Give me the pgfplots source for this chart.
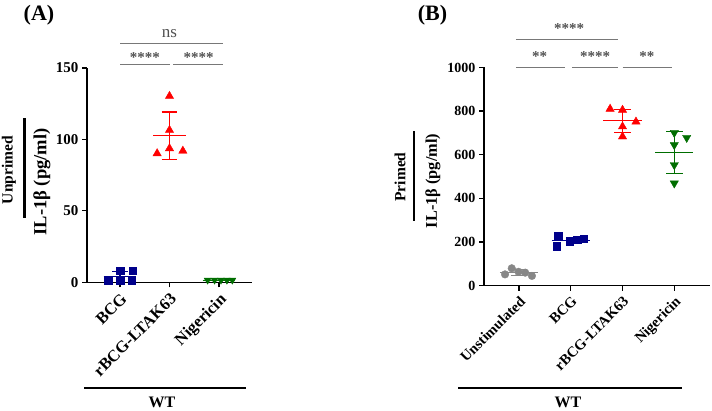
\documentclass[border=0pt]{standalone}
\usepackage{pgfplots}
\pgfplotsset{compat=1.18}
\usepackage{fontspec}
\setmainfont{Liberation Serif}
\definecolor{cblue}{RGB}{0,0,139}
\definecolor{cred}{RGB}{255,0,0}
\definecolor{cgreen}{RGB}{0,110,0}
\definecolor{cgray}{RGB}{135,135,135}
\definecolor{sigl}{RGB}{120,120,120}
\definecolor{sigt}{RGB}{80,80,80}
\newcommand\fs[1]{\fontsize{#1}{#1}\selectfont\bfseries}
\pgfplotsset{
  panel/.style={
    scale only axis, anchor=south west, clip=false,
    axis x line=bottom, axis y line=left,
    axis line style={line width=1.4pt,-},
    every tick/.style={black, line width=1.2pt},
    tick align=outside, major tick length=5pt,
    minor tick num=0,
    /pgf/number format/assume math mode=true,
    /pgf/number format/1000 sep={},
    ymin=0,
  },
  msd/.style={line width=1.1pt, forget plot},
}
\begin{document}
\begin{tikzpicture}[x=1pt,y=1pt]
\useasboundingbox (0,0) rectangle (712,410);
% ---------------- Panel A ----------------
\begin{axis}[panel, at={(87pt,127.7pt)}, width=165pt, height=214.3pt,
  xmin=-0.667, xmax=2.667, ymax=150, ytick={0,50,100,150},
  xtick={0,1,2}, xticklabels={BCG,rBCG-LTAK63,Nigericin},
  yticklabel style={font=\fs{15}},
  xticklabel style={rotate=45, anchor=north east, font=\fs{16.5}}]
% BCG
\addplot[msd, cblue] coordinates {(-0.33,3.8) (0.33,3.8)};
\addplot[msd, cblue] coordinates {(0,0) (0,7.6)};
\addplot[msd, cblue] coordinates {(-0.16,7.6) (0.16,7.6)};
\addplot[only marks, mark=square*, mark size=3.8pt, color=cblue] coordinates {(-0.24,1.5) (0,1.5) (0.24,1.5) (0,8) (0.26,8)};
% rBCG-LTAK63
\addplot[msd, cred] coordinates {(0.67,102.5) (1.33,102.5)};
\addplot[msd, cred] coordinates {(1,85.8) (1,119.2)};
\addplot[msd, cred] coordinates {(0.84,119.2) (1.16,119.2)};
\addplot[msd, cred] coordinates {(0.84,85.8) (1.16,85.8)};
\addplot[only marks, mark=triangle*, mark size=4.8pt, color=cred] coordinates {(1,130.3) (1,106.5) (1,93.7) (0.75,90.2) (1.27,92)};
% Nigericin
\addplot[msd, cgreen] coordinates {(1.67,1.3) (2.33,1.3)};
\addplot[only marks, mark=triangle*, mark size=4.0pt, mark options={rotate=180}, color=cgreen] coordinates {(1.77,1.5) (1.91,1.5) (2.04,1.5) (2.16,1.5) (2.27,1.5)};
% significance
\draw[sigl, line width=1pt] (axis cs:0,167.3) -- (axis cs:2.08,167.3);
\draw[sigl, line width=1pt] (axis cs:0,152.6) -- (axis cs:1.0,152.6);
\draw[sigl, line width=1pt] (axis cs:1.08,152.6) -- (axis cs:2.08,152.6);
\node[sigt, font=\fontsize{17}{17}\selectfont] at (axis cs:1.0,174) {ns};
\node[sigt, font=\fs{15}] at (axis cs:0.5,157) {****};
\node[sigt, font=\fs{15}] at (axis cs:1.59,157) {****};
\end{axis}
\node[font=\fs{22}] at (39,395) {(A)};
\node[rotate=90, font=\fs{15.5}] at (9,240) {Unprimed};
\draw[line width=2.5pt] (24.5,192) -- (24.5,292);
\node[rotate=90, font=\fs{18.5}] at (42,228) {IL-1β (pg/ml)};
\draw[line width=2.5pt] (84,22) -- (246,22);
\node[font=\fs{16}] at (162,8) {WT};
% ---------------- Panel B ----------------
\begin{axis}[panel, at={(484pt,124.5pt)}, width=226pt, height=218pt,
  xmin=-0.676, xmax=3.69, ymax=1000, ytick={0,200,400,600,800,1000},
  xtick={0,1,2,3}, xticklabels={Unstimulated,BCG,rBCG-LTAK63,Nigericin},
  yticklabel style={font=\fs{14}},
  xticklabel style={rotate=45, anchor=north east, font=\fs{14.7}}]
% Unstimulated
\addplot[msd, cgray] coordinates {(-0.37,59) (0.37,59)};
\addplot[msd, cgray] coordinates {(0,45.5) (0,72.5)};
\addplot[msd, cgray] coordinates {(-0.16,72.5) (0.16,72.5)};
\addplot[msd, cgray] coordinates {(-0.16,45.5) (0.16,45.5)};
\addplot[only marks, mark=*, mark size=3.8pt, color=cgray] coordinates {(-0.27,51) (-0.14,79) (-0.01,63) (0.12,59) (0.25,44)};
% BCG
\addplot[msd, cblue] coordinates {(0.63,207) (1.37,207)};
\addplot[only marks, mark=square*, mark size=3.9pt, color=cblue] coordinates {(0.73,180) (0.76,225) (0.98,205) (1.12,210) (1.25,215)};
% rBCG-LTAK63
\addplot[msd, cred] coordinates {(1.63,755.6) (2.37,755.6)};
\addplot[msd, cred] coordinates {(2,703.6) (2,807.6)};
\addplot[msd, cred] coordinates {(1.84,807.6) (2.16,807.6)};
\addplot[msd, cred] coordinates {(1.84,703.6) (2.16,703.6)};
\addplot[only marks, mark=triangle*, mark size=4.8pt, color=cred] coordinates {(1.76,810) (2,805) (2,729) (2,683) (2.26,751)};
% Nigericin
\addplot[msd, cgreen] coordinates {(2.63,609) (3.37,609)};
\addplot[msd, cgreen] coordinates {(3,513) (3,705)};
\addplot[msd, cgreen] coordinates {(2.84,705) (3.16,705)};
\addplot[msd, cgreen] coordinates {(2.84,513) (3.16,513)};
\addplot[only marks, mark=triangle*, mark size=4.8pt, mark options={rotate=180}, color=cgreen] coordinates {(3,701) (3.24,678) (3,645) (3,553) (3,469)};
% significance
\draw[sigl, line width=1pt] (axis cs:-0.058,1129) -- (axis cs:1.92,1129);
\draw[sigl, line width=1pt] (axis cs:-0.058,999) -- (axis cs:0.888,999);
\draw[sigl, line width=1pt] (axis cs:1.02,999) -- (axis cs:1.92,999);
\draw[sigl, line width=1pt] (axis cs:2.0,999) -- (axis cs:2.95,999);
\node[sigt, font=\fs{15}] at (axis cs:0.966,1180) {****};
\node[sigt, font=\fs{15}] at (axis cs:0.4,1050) {**};
\node[sigt, font=\fs{15}] at (axis cs:1.47,1050) {****};
\node[sigt, font=\fs{15}] at (axis cs:2.47,1050) {**};
\end{axis}
\node[font=\fs{22}] at (432.5,395) {(B)};
\node[rotate=90, font=\fs{15.5}] at (400,233) {Primed};
\draw[line width=2.5pt] (414,189) -- (414,279);
\node[rotate=90, font=\fs{16.3}] at (433,229) {IL-1β (pg/ml)};
\draw[line width=2.5pt] (458,22) -- (682,22);
\node[font=\fs{16}] at (568,7.5) {WT};
\end{tikzpicture}
\end{document}
